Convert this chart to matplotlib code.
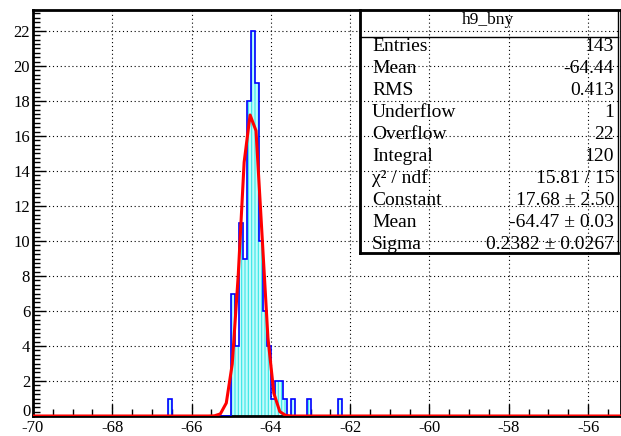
import numpy as np
import matplotlib
matplotlib.use("Agg")
import matplotlib.pyplot as plt
from matplotlib.patches import Rectangle
from matplotlib.lines import Line2D
from matplotlib.transforms import ScaledTranslation

plt.rcParams['font.family'] = ['Liberation Serif', 'DejaVu Serif']
plt.rcParams['axes.unicode_minus'] = False
plt.rcParams['hatch.linewidth'] = 0.8

# histogram h9_bny: 0.1 wide bins from -70 to -55, only non-empty bins listed
bin_lo = [-66.6, -65.0, -64.9, -64.8, -64.7, -64.6, -64.5, -64.4, -64.3,
          -64.2, -64.1, -64.0, -63.9, -63.8, -63.7, -63.5, -63.1, -62.3]
counts = [1, 7, 4, 11, 9, 18, 22, 19, 10,
          6, 4, 1, 2, 2, 1, 1, 1, 1]

# fitted gaussian as drawn (polyline vertices)
fit_x = [-70.0, -65.575, -65.425, -65.275, -65.125, -64.975, -64.825, -64.675,
         -64.525, -64.375, -64.225, -64.075, -63.925, -63.775, -63.625,
         -63.475, -55.0]
fit_y = [0.0, 0.0, 0.01, 0.12, 0.74, 2.97, 8.0, 14.5,
         17.2, 16.3, 10.4, 4.47, 1.29, 0.25, 0.03,
         0.0, 0.0]

stats_labels = ["Entries", "Mean", "RMS", "Underflow", "Overflow", "Integral",
                "\u03c7\u00b2 / ndf", "Constant", "Mean", "Sigma"]
stats_values = ["143", "-64.44", "0.413", "1", "22", "120", "15.81 / 15",
                "17.68 \u00b1 2.50", "-64.47 \u00b1 0.03", "0.2382 \u00b1 0.0267"]

edges = np.round(np.arange(-70.0, -54.95, 0.1), 2)
h = np.zeros(len(edges) - 1)
for lo, c in zip(bin_lo, counts):
    h[int(round((lo + 70.0) / 0.1))] = c

W, H = 621, 436
fig = plt.figure(figsize=(W / 100, H / 100), dpi=100)
ax = fig.add_axes([33 / W, 20 / H, 588 / W, 406 / H])

ax.stairs(h, edges, fill=True, facecolor='#c4fbfb', edgecolor='#35e6e6',
          hatch='|||||', linewidth=0, zorder=2)
ax.stairs(h, edges, color='#0000ff', linewidth=1.2, zorder=3)
ax.plot(fit_x, fit_y, color='#ff0000', linewidth=2.2, zorder=4)

ax.set_xlim(-70, -55.17)
ax.set_ylim(0, 23.2)
ax.set_xticks(np.arange(-70, -55, 2))
ax.set_xticks(np.arange(-70, -55, 0.5), minor=True)
ax.set_yticks(np.arange(0, 23, 2))
ax.set_yticks(np.arange(0, 23.2, 0.25), minor=True)
ax.tick_params(which='major', direction='in', length=9, width=1,
               labelsize=12, top=False, right=False)
ax.tick_params(which='minor', direction='in', length=5, width=1,
               top=False, right=False)
ax.tick_params(axis='x', pad=3)
ax.tick_params(axis='y', pad=2)
ax.grid(True, which='major', color='black', linestyle=(0, (1, 2.5)),
        linewidth=0.8, zorder=1)
ax.set_axisbelow(True)
for s in ax.spines.values():
    s.set_linewidth(2)

# lift the "0" label a little so it clears "-70"
lab0 = ax.get_yticklabels()[0]
lab0.set_transform(lab0.get_transform() + ScaledTranslation(0, 4 / 72, fig.dpi_scale_trans))


def fx(x):
    return x / W


def fy(y):
    return 1 - y / H


# stats box
box_l, box_r, box_t, box_b = 360, 618, 10, 253
fig.patches.append(Rectangle((fx(box_l), fy(box_b)), fx(box_r - box_l), (box_b - box_t) / H,
                             transform=fig.transFigure, fill=False,
                             edgecolor='black', linewidth=1, zorder=5))
fig.lines.append(Line2D([fx(box_l), fx(box_l)], [fy(box_t), fy(box_b)],
                        transform=fig.transFigure, color='black', linewidth=2))
fig.lines.append(Line2D([fx(box_l), fx(box_r)], [fy(box_b), fy(box_b)],
                        transform=fig.transFigure, color='black', linewidth=2))
fig.lines.append(Line2D([fx(box_l), fx(box_r)], [fy(37), fy(37)],
                        transform=fig.transFigure, color='black', linewidth=1))
fig.text(fx(488), fy(20), "h9_bny", ha='center', va='center', fontsize=12.5)

row_y = 46.5
for lab, val in zip(stats_labels, stats_values):
    fig.text(fx(372), fy(row_y), lab, ha='left', va='center', fontsize=14)
    fig.text(fx(614), fy(row_y), val, ha='right', va='center', fontsize=14)
    row_y += 22.0

fig.savefig("out.png", dpi=100)
